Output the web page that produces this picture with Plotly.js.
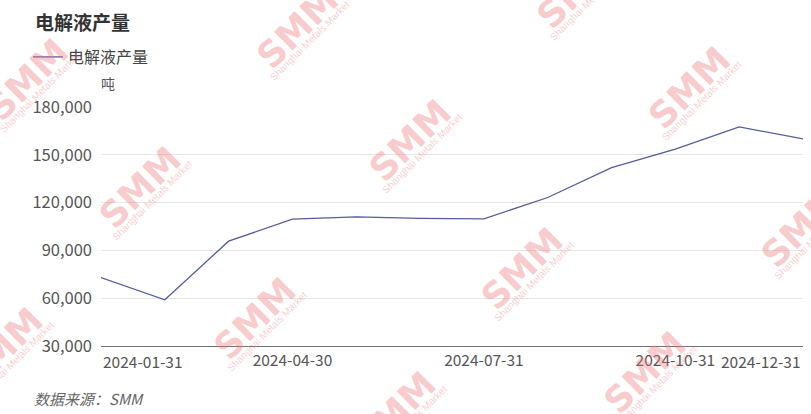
<!DOCTYPE html>
<html>
<head>
<meta charset="utf-8">
<script src="https://cdn.plot.ly/plotly-3.0.1.min.js"></script>
<style>html,body{margin:0;padding:0;background:#fff}#chart{width:811px;height:414px}</style>
</head>
<body>
<div id="chart"></div>
<script>
const categories = ["2024-01-31","2024-02-29","2024-03-31","2024-04-30","2024-05-31","2024-06-30","2024-07-31","2024-08-31","2024-09-30","2024-10-31","2024-11-30","2024-12-31"];
const values = [73000, 59000, 95800, 109600, 111100, 110100, 109800, 123200, 142000, 153500, 167500, 160000];
const tickLabels = ["2024-01-31","2024-04-30","2024-07-31","2024-10-31","2024-12-31"];
const yTicks = [30000, 60000, 90000, 120000, 150000, 180000];
const seriesName = "电解液产量";
const titleText = "电解液产量";
const unitText = "吨";
const sourceText = "数据来源：SMM";
const watermarks = [[28,80],[298,28],[410,140],[140,187],[690,88],[578,-12],[522,268],[255,318],[802,226],[645,372],[2,348],[395,412]];

const font = "'Noto Sans CJK SC','Microsoft YaHei',sans-serif";
const L = 101, R = 803, T = 107, B = 345.7;
const px = x => (x - L) / (R - L);
const py = y => (B - y) / (B - T);
const annotations = [];
watermarks.forEach(([x,y]) => {
  annotations.push({xref:'paper',yref:'paper',x:px(x),y:py(y),xanchor:'center',yanchor:'middle',text:'<b>SMM</b>',showarrow:false,
    textangle:-45,font:{family:'Arial Black, DejaVu Sans, sans-serif',size:36,color:'rgba(238,120,120,0.38)'}});
  annotations.push({xref:'paper',yref:'paper',x:px(x+12),y:py(y+13),xanchor:'center',yanchor:'middle',text:'Shanghai Metals Market',showarrow:false,
    textangle:-45,font:{family:'Arial, sans-serif',size:10,color:'rgba(238,120,120,0.38)'}});
});
annotations.push({xref:'paper',yref:'paper',x:px(33),y:py(22),xanchor:'left',yanchor:'middle',text:'<b>'+titleText+'</b>',showarrow:false,font:{family:font,size:19,color:'#333'}});
annotations.push({xref:'paper',yref:'paper',x:px(99),y:py(83),xanchor:'left',yanchor:'middle',text:unitText,showarrow:false,font:{family:font,size:14,color:'#555'}});
annotations.push({xref:'paper',yref:'paper',x:px(32),y:py(398),xanchor:'left',yanchor:'middle',text:'<i>'+sourceText+'</i>',showarrow:false,font:{family:font,size:15,color:'#666'}});
// end tick labels aligned to the axis ends
annotations.push({xref:'x',yref:'paper',x:tickLabels[0],y:py(361),xanchor:'left',yanchor:'middle',text:tickLabels[0],showarrow:false,font:{family:font,size:15.5,color:'#555'}});
annotations.push({xref:'x',yref:'paper',x:tickLabels[tickLabels.length-1],y:py(361),xanchor:'right',yanchor:'middle',text:tickLabels[tickLabels.length-1],showarrow:false,font:{family:font,size:15.5,color:'#555'}});

const trace = {x:categories,y:values,type:'scatter',mode:'lines',name:seriesName,
  line:{color:'#535d9c',width:1.3}};

const midTicks = tickLabels.slice(1, -1);
const layout = {
  width:811,height:414,margin:{l:L,r:811-R,t:T,b:414-B,autoexpand:false},
  paper_bgcolor:'#fff',plot_bgcolor:'#fff',
  font:{family:font,color:'#555'},
  showlegend:true,
  legend:{xref:'container',yref:'container',x:28/811,y:1-40/414,xanchor:'left',yanchor:'top',
    font:{family:font,size:16,color:'#444'},bgcolor:'rgba(0,0,0,0)',itemwidth:30},
  xaxis:{type:'category',range:[0,11],tickmode:'array',tickvals:midTicks,ticktext:midTicks,automargin:false,
    showgrid:false,showline:true,linecolor:'#6e7079',linewidth:1,ticks:'',zeroline:false,
    tickfont:{family:font,size:15.5,color:'#555'}},
  yaxis:{range:[30000,180000],tickvals:yTicks,tickformat:',d',showgrid:true,gridcolor:'#e6e6e6',automargin:false,
    zeroline:false,showline:false,ticks:'',tickfont:{family:font,size:16.5,color:'#555'},ticklabelstandoff:8},
  annotations:annotations
};
Plotly.newPlot('chart',[trace],layout,{displayModeBar:false,staticPlot:true});
</script>
</body>
</html>
